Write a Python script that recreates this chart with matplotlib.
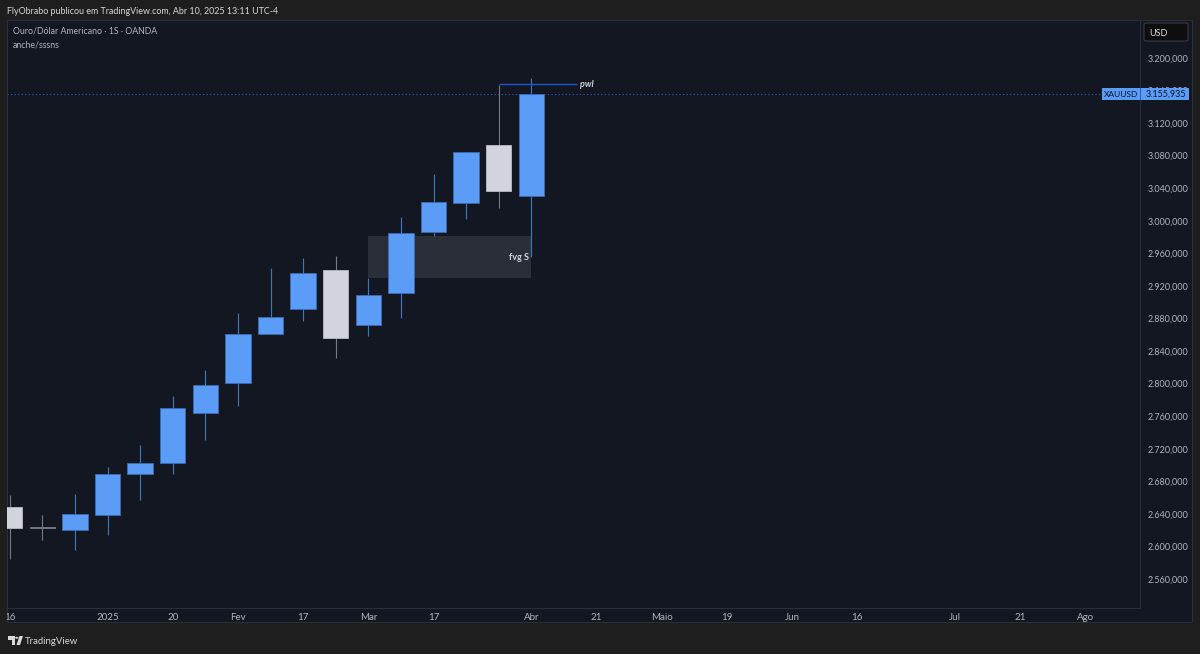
#!/usr/bin/env python
# -*- coding: utf-8 -*-

"""
Weekly XAUUSD candles in the style of a TradingView snapshot
"""

import matplotlib
matplotlib.use("Agg")
import matplotlib.pyplot as plt
from matplotlib.patches import FancyBboxPatch, Polygon, Circle, Rectangle
from matplotlib.transforms import Bbox

# Candle values, one entry per week
opens = [2648, 2623.4, 2620, 2638.6, 2689, 2702.5, 2764, 2801, 2861, 2892,
         2940, 2872, 2911, 2986, 3022, 3093, 3030.5]
closes = [2623, 2622.6, 2640, 2689, 2702.5, 2770, 2798, 2861, 2882, 2936,
          2856, 2909, 2985, 3023, 3084.5, 3037, 3155.935]
highs = [2663, 2639, 2664, 2697.5, 2725, 2785, 2817, 2887, 2942, 2954,
         2957, 2930, 3005, 3057.5, 3085, 3167, 3175]
lows = [2584.5, 2608, 2596, 2614, 2657, 2689, 2731, 2772.5, 2861, 2877,
        2831.5, 2858.5, 2881, 2981, 3002, 3016, 2955.5]

# Axis ticks
price_ticks = [2560, 2600, 2640, 2680, 2720, 2760, 2800, 2840, 2880, 2920,
               2960, 3000, 3040, 3080, 3120, 3160, 3200]
date_ticks = [0, 3, 5, 7, 9, 11, 13, 16, 18, 20, 22, 24, 26, 29, 31, 33]
date_labels = ["16", "2025", "20", "Fev", "17", "Mar", "17", "Abr", "21",
               "Maio", "19", "Jun", "16", "Jul", "21", "Ago"]

# Drawings on the chart
last_price = 3155.935
fvg_start, fvg_end = 11, 16
fvg_low, fvg_high = 2930, 2981
pwl_start, pwl_end = 15, 17.4
pwl_price = 3168

W, H = 1200, 654
BG = "#1e1e1e"
PANEL = "#131722"
BORDER = "#2a2e39"
BLUE = "#5b9cf6"
BLUE_WICK = "#3f78bd"
WHITE = "#d1d4dc"
GREY_WICK = "#787b86"
TEXT = "#b2b5be"

plt.rcParams["font.family"] = ["Lato", "DejaVu Sans"]


def main():
    """
    Draw the panel, the candles, the drawings and the labels
    """
    fig = plt.figure(figsize=(W / 100, H / 100), dpi=100, facecolor=BG)

    # Panel with the right price strip
    fig.add_artist(Rectangle((7 / W, 1 - 622 / H), 1185 / W, 602 / H,
                             transform=fig.transFigure, facecolor=PANEL,
                             edgecolor=BORDER, linewidth=0.8, zorder=-1))

    axis = fig.add_axes([7 / W, 1 - 608 / H, 1133 / W, 588 / H])
    axis.set_facecolor(PANEL)
    axis.set_xlim(-0.083, 34.67)
    axis.set_ylim(2524.3, 3246.7)
    for spine in axis.spines.values():
        spine.set_color(BORDER)
        spine.set_linewidth(0.8)

    # Price scale on the right, dates below
    axis.yaxis.tick_right()
    axis.set_yticks(price_ticks)
    axis.set_yticklabels(["%s,000" % format(p, ",").replace(",", ".")
                          for p in price_ticks])
    axis.tick_params(axis="y", length=0, pad=5.5, labelsize=6.5, labelcolor=TEXT)
    axis.set_xticks(date_ticks)
    axis.set_xticklabels(date_labels)
    axis.tick_params(axis="x", length=0, pad=3.5, labelsize=7, labelcolor=TEXT)
    axis.xaxis.get_ticklabels()[0].set_clip_box(Bbox([[7, 0], [W, H]]))
    axis.xaxis.get_ticklabels()[0].set_clip_on(True)

    # Fair value gap box
    axis.fill_between([fvg_start, fvg_end], fvg_low, fvg_high,
                      color="#2a2e39", linewidth=0, zorder=1)
    axis.text(fvg_end - 0.08, 2955, "fvg S", color=WHITE, fontsize=6.5,
              fontweight="bold", ha="right", va="center", zorder=5)

    # Candles
    for i, (o, c, h, l) in enumerate(zip(opens, closes, highs, lows)):
        if abs(o - c) < 1:
            wick = body = edge = GREY_WICK
        elif c > o:
            wick, body, edge = BLUE_WICK, BLUE, "#3a6db0"
        else:
            wick, body, edge = GREY_WICK, WHITE, "#b9bcc5"
        axis.vlines(i, l, h, color=wick, linewidth=0.8, zorder=2)
        axis.bar(i, abs(c - o), bottom=min(o, c), width=0.78, color=body,
                 edgecolor=edge, linewidth=0.6, zorder=3)

    # Last price and pwl level
    axis.axhline(last_price, color="#2a5fc4", linewidth=0.8,
                 linestyle=(0, (1, 2.2)), zorder=2.5)
    axis.hlines(pwl_price, pwl_start, pwl_end, color="#1f55d8", linewidth=1,
                zorder=4)
    axis.text(pwl_end + 0.09, pwl_price, "pwl", color=WHITE, fontsize=6.5,
              fontweight="bold", style="italic", ha="left", va="center", zorder=5)

    # Header texts
    fig.text(7 / W, 1 - 11 / H, "FlyObrabo publicou em TradingView.com, "
             "Abr 10, 2025 13:11 UTC-4", color="#d8d8d8", fontsize=6.4,
             va="center")
    fig.text(13 / W, 1 - 31.5 / H, "Ouro/Dólar Americano · 1S · OANDA",
             color=TEXT, fontsize=6.3, va="center")
    fig.text(13 / W, 1 - 44.5 / H, "anche/sssns", color=TEXT, fontsize=6.3,
             va="center")

    # Currency button
    fig.add_artist(FancyBboxPatch((1144 / W, 1 - 41 / H), 44 / W, 18 / H,
                                  boxstyle="round,pad=0,rounding_size=0.002",
                                  transform=fig.transFigure,
                                  facecolor="#0e0e0e", edgecolor="#363a45",
                                  linewidth=0.8))
    fig.text(1149 / W, 1 - 33 / H, "USD", color="#e0e0e0", fontsize=6.5,
             va="center")

    # Last price tags
    fig.add_artist(Rectangle((1102 / W, 1 - 100 / H), 87 / W, 12 / H,
                             transform=fig.transFigure, facecolor=BLUE,
                             edgecolor="none", zorder=6))
    fig.add_artist(Rectangle((1140 / W, 1 - 100 / H), 0.8 / W, 12 / H,
                             transform=fig.transFigure, facecolor="#2f5f9e",
                             edgecolor="none", zorder=7))
    fig.text(1121 / W, 1 - 94.5 / H, "XAUUSD", color="#0b1320", fontsize=6,
             ha="center", va="center", zorder=8)
    fig.text(1165.5 / W, 1 - 94.5 / H, "3.155,935", color="#0b1320", fontsize=6.5,
             ha="center", va="center", zorder=8)

    # TradingView logo and name
    logo_color = "#d8d8d8"
    fig.add_artist(Polygon([(8 / W, 1 - 636 / H), (15 / W, 1 - 636 / H),
                            (15 / W, 1 - 645 / H), (11.5 / W, 1 - 645 / H),
                            (11.5 / W, 1 - 639.5 / H), (8 / W, 1 - 639.5 / H)],
                           transform=fig.transFigure, facecolor=logo_color,
                           edgecolor="none"))
    fig.add_artist(Circle((16.8 / W, 1 - 637.8 / H), 1.7 / W,
                          transform=fig.transFigure, facecolor=logo_color,
                          edgecolor="none"))
    fig.add_artist(Polygon([(16.5 / W, 1 - 645 / H), (19.5 / W, 1 - 636 / H),
                            (23 / W, 1 - 636 / H), (20 / W, 1 - 645 / H)],
                           transform=fig.transFigure, facecolor=logo_color,
                           edgecolor="none"))
    fig.text(25 / W, 1 - 641.5 / H, "TradingView", color=logo_color, fontsize=6.9,
             va="center")

    fig.savefig("out.png", dpi=100, facecolor=BG)
    return 0


if __name__ == '__main__':
    main()
